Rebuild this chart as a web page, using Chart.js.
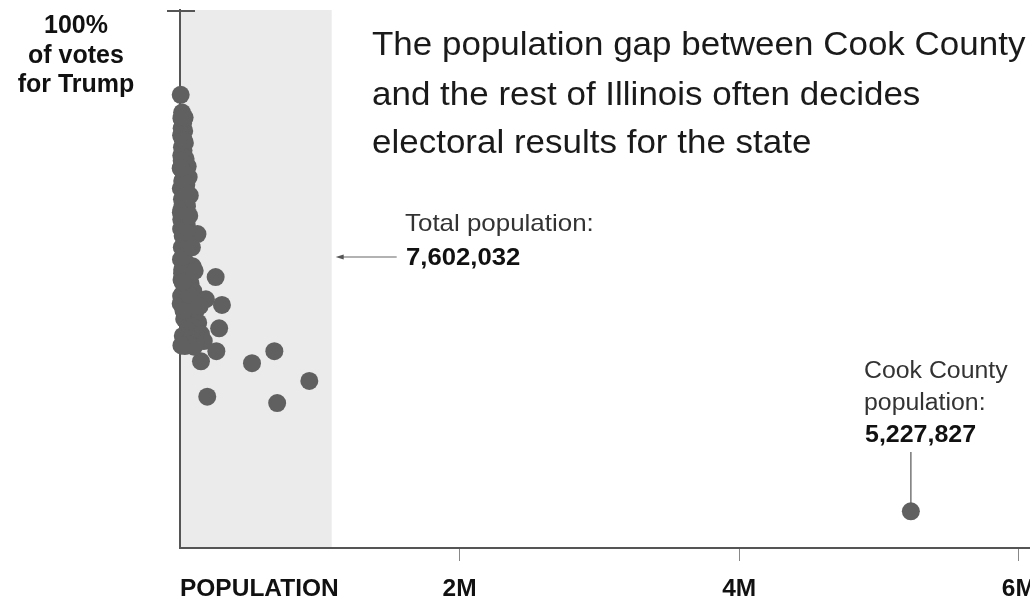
<!DOCTYPE html>
<html><head><meta charset="utf-8">
<script src="https://cdn.jsdelivr.net/npm/chart.js@4.4.0/dist/chart.umd.min.js"></script>
<style>html,body{margin:0;padding:0;background:#fff}#wrap{width:1030px;height:600px}</style>
</head><body><div id="wrap"><canvas id="c" width="1030" height="600"></canvas></div>
<script>
// County population (thousands) and Trump share of votes (%), all counties except Cook
const countyPopK = [5,15,10,22,12,30,8,18,35,14,25,9,40,20,55,12,30,62,16,45,6,26,70,14,38,50,10,22,33,17,48,8,28,125,19,40,58,13,35,24,7,45,90,16,60,30,255,11,75,40,95,20,185,300,5,50,110,70,30,130,90,280,55,150,20,80,170,115,260,150,515,675,925,195,695,35,100,60,10,8,45,25,65,12,28,18,9,36,15,42,22,5,27,33,6,52,19,85,66,105,140];
const trumpPct = [86.6,83.8,82.9,82.1,81.3,80.9,80.2,79.6,79.0,78.3,77.8,77.0,76.5,75.9,75.3,74.8,74.2,73.6,73.0,72.4,71.8,71.3,70.7,70.1,69.5,69.0,68.4,67.8,67.2,66.5,66.0,65.4,64.9,64.6,64.3,63.7,63.0,62.5,61.9,61.2,60.6,60.0,59.5,59.0,58.6,58.0,57.8,57.4,56.8,56.2,55.6,55.2,54.3,53.4,53.6,53.0,52.4,51.8,51.2,50.6,50.0,49.7,49.4,48.8,48.5,48.0,47.7,47.4,46.1,44.5,44.2,46.1,41.4,38.9,37.9,46.9,46.8,47.2,47.0,54.8,54.0,52.5,55.0,76.2,72.9,69.2,66.9,62.2,58.4,65.0,61.0,75.0,79.5,83.0,68.0,71.0,57.0,62.5,67.5,58.8,53.2];
const cookPopulation = 5227827;
const cookPct = 20.8;
const totalPopulationLabel = '7,602,032';
const cookPopulationLabel = '5,227,827';
const tickValues = [2000000, 4000000, 6000000];
const tickLabels = ['2M', '4M', '6M'];
const shadedRangeMax = 1085000;

const FONT = '"Liberation Sans", Arial, sans-serif';
function txt(ctx, s, x, y, size, bold, color, sx, align) {
  ctx.save();
  ctx.font = (bold ? 'bold ' : '') + size + 'px ' + FONT;
  ctx.fillStyle = color;
  ctx.textBaseline = 'alphabetic';
  ctx.textAlign = align || 'left';
  ctx.translate(x, y);
  ctx.scale(sx || 1, 1);
  ctx.fillText(s, 0, 0);
  ctx.restore();
}

const deco = {
  id: 'deco',
  beforeDraw(chart) {
    const { ctx, chartArea: a, scales: { x } } = chart;
    ctx.save();
    ctx.fillStyle = '#ebebeb';
    const r = x.getPixelForValue(shadedRangeMax);
    ctx.fillRect(a.left, a.top, r - a.left, a.bottom - a.top);
    ctx.restore();
  },
  beforeDatasetsDraw(chart) {
    const { ctx, chartArea: a, scales: { x, y } } = chart;
    ctx.save();
    ctx.strokeStyle = '#555';
    ctx.lineWidth = 2;
    ctx.beginPath();
    ctx.moveTo(a.left - 13, a.top + 1);
    ctx.lineTo(a.left + 15, a.top + 1);
    ctx.stroke();
    const cx = x.getPixelForValue(cookPopulation);
    const cy = y.getPixelForValue(cookPct);
    ctx.strokeStyle = '#777';
    ctx.lineWidth = 1.5;
    ctx.beginPath();
    ctx.moveTo(cx, 452);
    ctx.lineTo(cx, cy - 8);
    ctx.stroke();
    const r = x.getPixelForValue(shadedRangeMax);
    ctx.strokeStyle = '#666';
    ctx.lineWidth = 1.2;
    ctx.beginPath();
    ctx.moveTo(r + 65, 257);
    ctx.lineTo(r + 8, 257);
    ctx.stroke();
    ctx.fillStyle = '#555';
    ctx.beginPath();
    ctx.moveTo(r + 4, 257);
    ctx.lineTo(r + 12, 254.5);
    ctx.lineTo(r + 12, 259.5);
    ctx.closePath();
    ctx.fill();
    ctx.restore();
  },
  afterDraw(chart) {
    const { ctx, scales: { x } } = chart;
    txt(ctx, '100%', 76, 33, 25, true, '#111', 1, 'center');
    txt(ctx, 'of votes', 76, 63, 25, true, '#111', 1, 'center');
    txt(ctx, 'for Trump', 76, 92, 25, true, '#111', 1, 'center');
    txt(ctx, 'The population gap between Cook County', 372, 55, 33, false, '#1a1a1a', 1.06);
    txt(ctx, 'and the rest of Illinois often decides', 372, 105, 33, false, '#1a1a1a', 1.06);
    txt(ctx, 'electoral results for the state', 372, 153, 33, false, '#1a1a1a', 1.06);
    txt(ctx, 'Total population:', 405, 231, 24, false, '#333', 1.08);
    txt(ctx, totalPopulationLabel, 406, 265, 24, true, '#111', 1.07);
    txt(ctx, 'Cook County', 864, 378, 23, false, '#333', 1.08);
    txt(ctx, 'population:', 864, 410, 23, false, '#333', 1.08);
    txt(ctx, cookPopulationLabel, 865, 442, 24, true, '#111', 1.04);
    txt(ctx, 'POPULATION', 180, 596, 24, true, '#111', 1.02);
    tickValues.forEach((v, i) => {
      txt(ctx, tickLabels[i], x.getPixelForValue(v), 596, 24, true, '#111', 1.02, 'center');
    });
  }
};

const otherPoints = countyPopK.map((p, i) => ({ x: p * 1000, y: trumpPct[i] }));

new Chart(document.getElementById('c'), {
  type: 'scatter',
  data: {
    datasets: [
      { data: otherPoints, pointRadius: 9, pointHoverRadius: 9, backgroundColor: '#606060', borderWidth: 0, clip: false },
      { data: [{ x: cookPopulation, y: cookPct }], pointRadius: 9, pointHoverRadius: 9, backgroundColor: '#606060', borderWidth: 0, clip: false }
    ]
  },
  options: {
    responsive: false,
    animation: false,
    events: [],
    layout: { autoPadding: false, padding: { top: 10, left: 0, right: 0, bottom: 0 } },
    plugins: { legend: { display: false }, tooltip: { enabled: false } },
    scales: {
      x: {
        type: 'linear', min: 0, max: 6080000,
        afterBuildTicks: s => { s.ticks = tickValues.map(v => ({ value: v })); },
        afterFit: s => { s.height = 52; },
        ticks: { display: false },
        grid: { display: true, drawOnChartArea: false, drawTicks: true, tickLength: 13, color: '#888', lineWidth: 1 },
        border: { display: true, color: '#555', width: 2 }
      },
      y: {
        type: 'linear', min: 15, max: 100,
        afterFit: s => { s.width = 180; },
        ticks: { display: false },
        grid: { display: false },
        border: { display: true, color: '#555', width: 2 }
      }
    }
  },
  plugins: [deco]
});
</script></body></html>
